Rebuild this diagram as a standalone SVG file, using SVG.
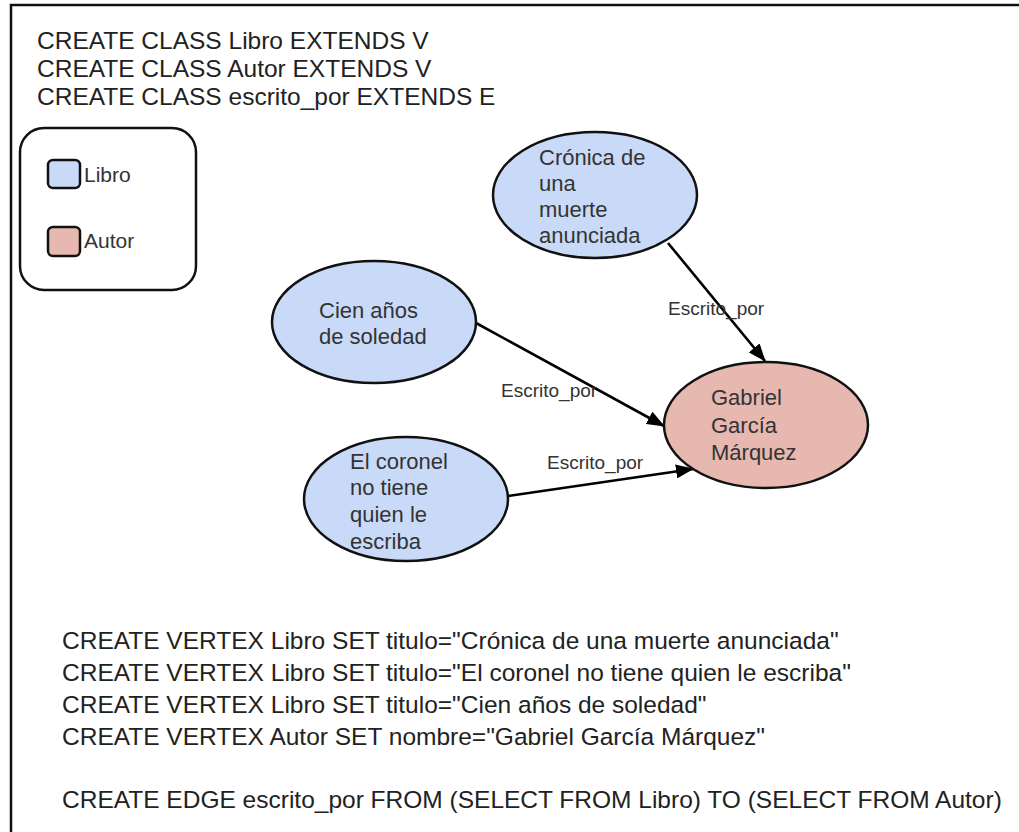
<svg xmlns="http://www.w3.org/2000/svg" width="1019" height="832" viewBox="0 0 1019 832">
  <style>
    .code { font-family: "Liberation Sans", Arial, sans-serif; font-size: 24.5px; fill: #222; }
    .node-text { font-family: "Liberation Sans", Arial, sans-serif; font-size: 22px; fill: #333; }
    .legend-text { font-family: "Liberation Sans", Arial, sans-serif; font-size: 21px; fill: #333; }
    .edge-label { font-family: "Liberation Sans", Arial, sans-serif; font-size: 19px; fill: #333; }
    .libro { fill: #c9daf8; stroke: #111; stroke-width: 2.5; }
    .autor { fill: #e6b8af; stroke: #111; stroke-width: 2.5; }
    .edge { stroke: #000; stroke-width: 2.6; fill: none; marker-end: url(#arrow); }
  </style>
  <defs>
    <marker id="arrow" markerWidth="18" markerHeight="14" refX="17" refY="7" orient="auto" markerUnits="userSpaceOnUse" viewBox="0 0 18 14">
      <path d="M0,0 L18,7 L0,14 Z" fill="#000"/>
    </marker>
  </defs>

  <rect width="1019" height="832" fill="#fff"/>

  <!-- page frame (top and left edges only) -->
  <path d="M11,832 L11,5 L1019,5" fill="none" stroke="#111" stroke-width="2.5"/>

  <!-- class definitions -->
  <g id="class-defs">
    <text class="code" x="37" y="49">CREATE CLASS Libro EXTENDS V</text>
    <text class="code" x="37" y="77">CREATE CLASS Autor EXTENDS V</text>
    <text class="code" x="37" y="105">CREATE CLASS escrito_por EXTENDS E</text>
  </g>

  <!-- legend -->
  <g id="legend">
    <rect x="20" y="128" width="176" height="162" rx="24" fill="#fff" stroke="#111" stroke-width="2.5"/>
    <rect class="libro" x="48" y="160" width="32" height="28" rx="5"/>
    <text class="legend-text" x="84" y="182">Libro</text>
    <rect class="autor" x="48" y="227" width="32" height="29" rx="5"/>
    <text class="legend-text" x="84" y="248">Autor</text>
  </g>

  <!-- connectors -->
  <g id="connectors">
    <line class="edge" x1="668" y1="243" x2="765" y2="361"/>
    <line class="edge" x1="476" y1="323" x2="664" y2="426"/>
    <line class="edge" x1="508" y1="496" x2="693" y2="469"/>
    <text class="edge-label" x="668" y="315">Escrito_por</text>
    <text class="edge-label" x="501" y="397">Escrito_por</text>
    <text class="edge-label" x="547" y="469">Escrito_por</text>
  </g>

  <g id="node-cronica">
    <ellipse class="libro" cx="595" cy="195" rx="102" ry="63"/>
    <text class="node-text" x="539" y="165">Crónica de</text>
    <text class="node-text" x="539" y="191">una</text>
    <text class="node-text" x="539" y="217">muerte</text>
    <text class="node-text" x="539" y="243">anunciada</text>
  </g>

  <g id="node-cien">
    <ellipse class="libro" cx="374" cy="322" rx="102" ry="61"/>
    <text class="node-text" x="319" y="318">Cien años</text>
    <text class="node-text" x="319" y="344">de soledad</text>
  </g>

  <g id="node-coronel">
    <ellipse class="libro" cx="406" cy="499" rx="102" ry="62"/>
    <text class="node-text" x="350" y="469">El coronel</text>
    <text class="node-text" x="350" y="495">no tiene</text>
    <text class="node-text" x="350" y="522">quien le</text>
    <text class="node-text" x="350" y="549">escriba</text>
  </g>

  <g id="node-gabriel">
    <ellipse class="autor" cx="766" cy="425" rx="102" ry="63"/>
    <text class="node-text" x="711" y="405">Gabriel</text>
    <text class="node-text" x="711" y="433">García</text>
    <text class="node-text" x="711" y="460">Márquez</text>
  </g>

  <!-- vertex and edge creation -->
  <g id="vertex-defs">
    <text class="code" x="62" y="649">CREATE VERTEX Libro SET titulo="Crónica de una muerte anunciada"</text>
    <text class="code" x="62" y="681">CREATE VERTEX Libro SET titulo="El coronel no tiene quien le escriba"</text>
    <text class="code" x="62" y="713">CREATE VERTEX Libro SET titulo="Cien años de soledad"</text>
    <text class="code" x="62" y="745">CREATE VERTEX Autor SET nombre="Gabriel García Márquez"</text>
    <text class="code" x="62" y="808">CREATE EDGE escrito_por FROM (SELECT FROM Libro) TO (SELECT FROM Autor)</text>
  </g>
</svg>
